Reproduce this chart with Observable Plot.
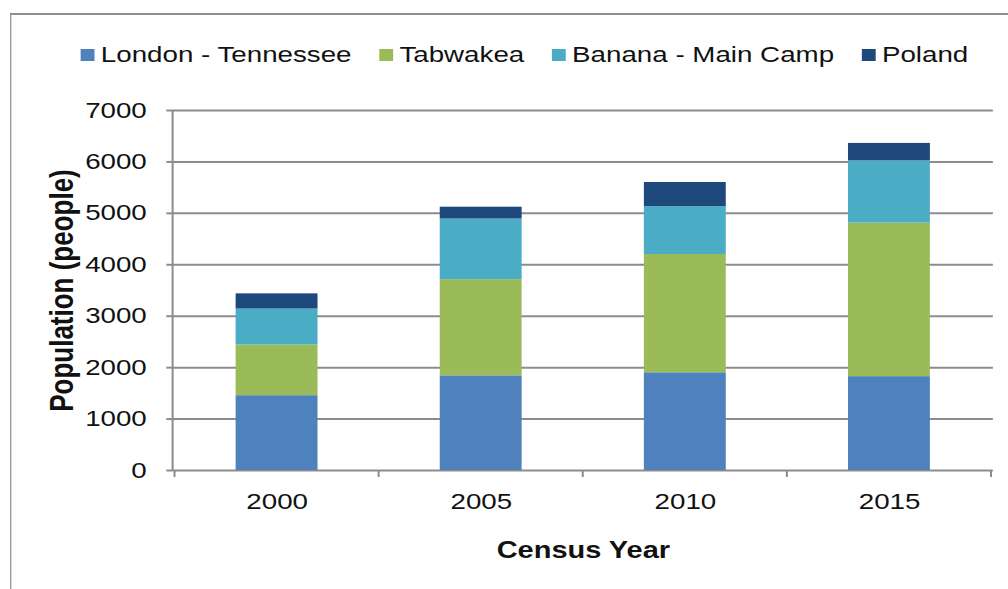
<!DOCTYPE html>
<html><head><meta charset="utf-8">
<script src="https://cdn.jsdelivr.net/npm/d3@7"></script>
<script src="https://cdn.jsdelivr.net/npm/@observablehq/plot@0.6"></script>
<style>
html,body{margin:0;padding:0;background:#fff;overflow:hidden;width:1008px;height:589px;}
#stage{position:relative;width:800px;height:589px;transform:scaleX(1.26);transform-origin:0 0;font-family:"Liberation Sans",Arial,sans-serif;}
#frame{position:absolute;left:8px;top:13px;width:900px;height:700px;border-left:1.6px solid #8f8f8f;border-top:2px solid #8f8f8f;}
#chart{position:absolute;left:0;top:0;}
#legend{position:absolute;left:64px;top:42px;display:flex;align-items:center;font-size:22px;line-height:26px;color:#111;white-space:nowrap;}
#legend .item{display:flex;align-items:center;margin-right:22px;}
#legend .sw{width:11px;height:12px;margin-right:5px;}
[aria-label="y-axis label"], [aria-label="y-axis label"] text{font-weight:bold;font-size:26px;}
[aria-label="x-axis label"], [aria-label="x-axis label"] text{font-weight:bold;font-size:23px;}
</style>
</head><body>
<div id="stage"><div id="frame"></div><div id="chart"></div><div id="legend"></div></div>
<script>
const years = ["2000", "2005", "2010", "2015"];
const seriesNames = ["London - Tennessee", "Tabwakea", "Banana - Main Camp", "Poland"];
const london = [1455, 1840, 1900, 1825];
const tabwakea = [985, 1870, 2300, 2985];
const banana = [700, 1180, 930, 1210];
const poland = [295, 230, 470, 340];
const seriesColors = ["#4F81BD", "#9BBB59", "#4BACC6", "#1F497D"];
const yTicks = [0, 1000, 2000, 3000, 4000, 5000, 6000, 7000];
const yTitle = "Population (people)";
const xTitle = "Census Year";

const seriesValues = [london, tabwakea, banana, poland];
const data = seriesNames.flatMap((s, i) => years.map((y, j) => ({year: y, series: s, value: seriesValues[i][j]})));

// Excel-style category boundary ticks and the vertical value axis line
const categoryAxis = (index, scales, values, dims) => {
  const x = scales.x;
  const bw = x.bandwidth();
  const step = x.step ? x.step() : bw / 0.4;
  const y0 = dims.height - dims.marginBottom;
  const g = d3.create("svg:g").attr("stroke", "#8c8c8c").attr("stroke-width", 1.6);
  const xs = years.map(v => x(v) + bw / 2 - step / 2);
  xs.push(x(years[years.length - 1]) + bw / 2 + step / 2);
  g.selectAll("line.tick").data(xs).join("line").attr("class", "tick")
    .attr("x1", d => d).attr("x2", d => d).attr("y1", y0).attr("y2", y0 + 7);
  g.append("line").attr("x1", dims.marginLeft).attr("x2", dims.marginLeft)
    .attr("y1", dims.marginTop).attr("y2", y0);
  return g.node();
};

const plot = Plot.plot({
  width: 800, height: 589,
  marginTop: 110, marginBottom: 119, marginLeft: 137, marginRight: 12,
  style: {fontFamily: "Liberation Sans, Arial, sans-serif", fontSize: "22px", color: "#111", background: "transparent", overflow: "visible"},
  x: {type: "band", domain: years, paddingInner: 0.6, paddingOuter: 0.3},
  y: {domain: [0, 7000]},
  color: {domain: seriesNames, range: seriesColors},
  marks: [
    Plot.ruleY(yTicks, {stroke: "#8c8c8c", strokeWidth: 2}),
    Plot.barY(data, {x: "year", y: "value", fill: "series"}),
    categoryAxis,
    Plot.axisY({ticks: yTicks, tickFormat: d => String(d), tickSize: 5, tickPadding: 16, stroke: "#8c8c8c", strokeWidth: 2, fill: "#111",
      label: yTitle, labelArrow: false, labelAnchor: "center", labelOffset: 98}),
    Plot.axisX({tickSize: 0, tickPadding: 23, fill: "#111", label: xTitle, labelArrow: false, labelAnchor: "center", labelOffset: 87})
  ]
});
// strip any automatic arrow from the axis titles
plot.querySelectorAll('[aria-label="y-axis label"] text, [aria-label="x-axis label"] text').forEach(t => {
  t.textContent = t.textContent.replace(/[↑↓←→]\s*/g, "").replace(/\s*[↑↓←→]/g, "");
});
document.getElementById("chart").appendChild(plot);

const legend = document.getElementById("legend");
seriesNames.forEach((s, i) => {
  const item = document.createElement("div");
  item.className = "item";
  const sw = document.createElement("span");
  sw.className = "sw";
  sw.style.background = seriesColors[i];
  const t = document.createElement("span");
  t.textContent = s;
  item.appendChild(sw); item.appendChild(t);
  legend.appendChild(item);
});
</script>
</body></html>
